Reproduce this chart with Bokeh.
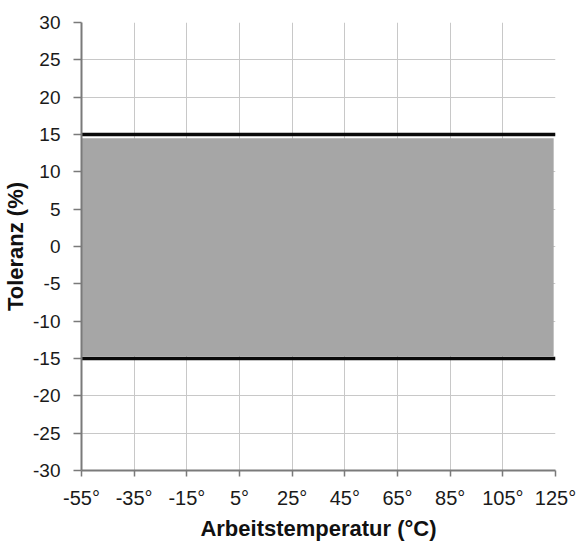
from bokeh.plotting import figure
from bokeh.models import FixedTicker, Range1d
from bokeh.embed import file_html
from bokeh.resources import INLINE

# --- data ---
x_ticks = [-55, -35, -15, 5, 25, 45, 65, 85, 105, 125]
x_tick_labels = ["-55°", "-35°", "-15°", "5°", "25°", "45°", "65°", "85°", "105°", "125°"]
y_ticks = [-30, -25, -20, -15, -10, -5, 0, 5, 10, 15, 20, 25, 30]
y_tick_labels = ["-30", "-25", "-20", "-15", "-10", "-5", "0", "5", "10", "15", "20", "25", "30"]
temp_range = [-55, 125]          # working temperature range (°C)
tol_upper = [15, 15]             # upper tolerance limit (%)
tol_lower = [-15, -15]           # lower tolerance limit (%)
band_left = [-55]
band_right = [124.3]
band_bottom = [-14.7]
band_top = [14.5]

FONT = "Liberation Sans, Arial, sans-serif"

p = figure(width=577, height=545, output_backend="svg", toolbar_location=None,
           x_range=Range1d(-55, 125), y_range=Range1d(-30, 30),
           min_border_left=81, min_border_right=22, min_border_top=22, min_border_bottom=75)
p.outline_line_color = None
p.background_fill_color = "white"
p.border_fill_color = "white"

# grey tolerance band
p.quad(left=band_left, right=band_right, bottom=band_bottom, top=band_top,
       fill_color="#a6a6a6", line_color=None)
# limit lines
p.line(temp_range, tol_upper, line_color="#0a0a0a", line_width=3.5)
p.line(temp_range, tol_lower, line_color="#0a0a0a", line_width=3.5)

# axes
p.xaxis.ticker = FixedTicker(ticks=x_ticks)
p.yaxis.ticker = FixedTicker(ticks=y_ticks)
p.xaxis.major_label_overrides = dict(zip(x_ticks, x_tick_labels))
p.yaxis.major_label_overrides = dict(zip(y_ticks, y_tick_labels))
p.xgrid.ticker = FixedTicker(ticks=x_ticks)
p.ygrid.ticker = FixedTicker(ticks=y_ticks)
p.grid.grid_line_color = "#c8c8c8"
p.grid.grid_line_width = 1
p.grid.level = "underlay"

for ax in (p.xaxis[0], p.yaxis[0]):
    ax.axis_line_color = "#7a7a7a"
    ax.axis_line_width = 2
    ax.major_tick_line_color = "#7a7a7a"
    ax.major_tick_line_width = 1.5
    ax.major_tick_in = 0
    ax.minor_tick_line_color = None
    ax.major_label_text_font = FONT
    ax.major_label_text_color = "#1a1a1a"
    ax.axis_label_text_font = FONT
    ax.axis_label_text_font_style = "bold"
    ax.axis_label_text_font_size = "22px"
    ax.axis_label_text_color = "#111111"

p.xaxis.major_tick_out = 6
p.xaxis.major_label_standoff = 10
p.xaxis.major_label_text_font_size = "20px"
p.xaxis.axis_label = "Arbeitstemperatur (°C)"
p.xaxis.axis_label_standoff = 4

p.yaxis.major_tick_out = 8
p.yaxis.major_label_standoff = 13
p.yaxis.major_label_text_font_size = "19px"
p.yaxis.axis_label = "Toleranz (%)"
p.yaxis.axis_label_standoff = 2

open("out.html", "w").write(file_html(p, INLINE))
